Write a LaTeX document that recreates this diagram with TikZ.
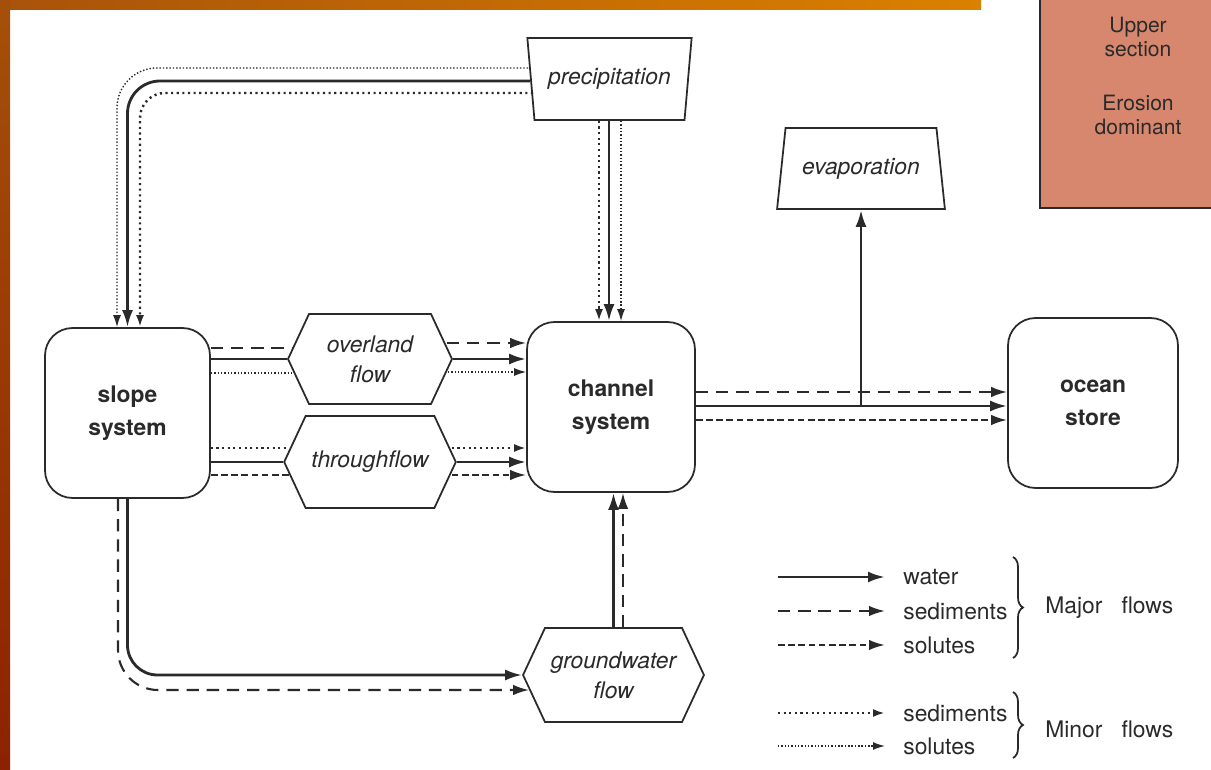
\documentclass[tikz,border=0pt]{standalone}
\usepackage{fontspec}
\setmainfont{TeX Gyre Heros}
\usetikzlibrary{arrows.meta,calc,shapes.geometric,shapes.symbols,decorations.pathreplacing}
\definecolor{BarLeft}{HTML}{A9520A}
\definecolor{BarRight}{HTML}{DB8100}
\definecolor{StripTop}{HTML}{A5500A}
\definecolor{StripBot}{HTML}{8C2200}
\definecolor{SectionRed}{HTML}{D6876E}
\definecolor{InkGray}{HTML}{2A2A2A}
\tikzset{
    store/.style = {draw=InkGray, rectangle, rounded corners=0.55cm, line width=1pt,
        font=\fontsize{13}{19}\selectfont\bfseries, align=center},
    transfer/.style = {draw=InkGray, signal, signal to=east and west,
        signal pointer angle=130, line width=1pt,
        font=\fontsize{13}{17}\selectfont\itshape, align=center},
    inout/.style = {draw=InkGray, trapezium, trapezium stretches=true, line width=1pt,
        font=\fontsize{13}{17}\selectfont\itshape},
    water/.style = {draw=InkGray, line width=1.6pt, -{Latex[length=3.4mm,width=2.2mm]}},
    sedmaj/.style = {draw=InkGray, line width=1.2pt, dash pattern=on 7pt off 4.5pt,
        -{Latex[length=3.2mm,width=2.1mm]}},
    solmaj/.style = {draw=InkGray, line width=1.3pt, dash pattern=on 3.8pt off 2pt,
        -{Latex[length=3.2mm,width=2.1mm]}},
    sedmin/.style = {draw=InkGray, line width=1.4pt, dash pattern=on 1.2pt off 2pt,
        -{Latex[length=2.4mm,width=1.6mm]}},
    solmin/.style = {draw=InkGray, line width=0.8pt, dash pattern=on 0.8pt off 1.1pt,
        -{Latex[length=2.4mm,width=1.6mm]}},
    legtext/.style = {anchor=west, inner sep=0pt, text=InkGray},
    curly/.style = {draw=InkGray, line width=1pt, decorate,
        decoration={brace, amplitude=0.2cm}}
}

\begin{document}
\begin{tikzpicture}[x=0.02cm, y=-0.02cm, font=\fontsize{13}{17}\selectfont, text=InkGray]
        \useasboundingbox (0,0) rectangle (1211,770);
        \fill[white] (0,0) rectangle (1211,770);
        % page decoration
        \shade[left color=BarLeft, right color=BarRight] (0,0) rectangle (981,10);
        \shade[top color=StripTop, bottom color=StripBot] (0,0) rectangle (10,770);
        \fill[SectionRed] (1040,0) rectangle (1211,208);
        \draw[InkGray, line width=1.3pt] (1040,0) -- (1040,208) -- (1211,208);
        \node[align=center, font=\fontsize{12}{14}\selectfont] (upper) at (1138,37) {Upper\\section};
        \node[align=center, font=\fontsize{12}{14}\selectfont] (erosion) at (1138,115) {Erosion\\dominant};

        % stores and transfers
        \node[store, minimum width=3.3cm, minimum height=3.4cm] (slope) at (127.5,413) {slope\\system};
        \node[store, minimum width=3.36cm, minimum height=3.4cm] (chan) at (611,407) {channel\\system};
        \node[store, minimum width=3.4cm, minimum height=3.4cm] (ocean) at (1093,403) {ocean\\store};
        \node[transfer, minimum width=3.28cm, minimum height=1.8cm] (ovl) at (370,359) {overland\\flow};
        \node[transfer, minimum width=3.28cm, minimum height=1.84cm] (thru) at (370,462) {throughflow};
        \node[transfer, minimum width=3.34cm, minimum height=1.88cm] (gw) at (613.5,675) {groundwater\\flow};
        \node[inout, trapezium left angle=101, trapezium right angle=101,
              minimum width=3.3cm, minimum height=1.64cm] (prec) at (609.5,79) {precipitation};
        \node[inout, trapezium left angle=77.5, trapezium right angle=77.5,
              minimum width=3.36cm, minimum height=1.62cm] (evap) at (861,168.5) {evaporation};

        % precipitation
        \draw[solmin, rounded corners=0.8cm] ($(prec.west)+(-2,-11)$) -| (slope.north -| 117,0);
        \draw[water, rounded corners=0.65cm] ($(prec.west)+(0,2)$) -| (slope.north);
        \draw[sedmin, rounded corners=0.5cm] ($(prec.west)+(3,14)$) -| (slope.north -| 140,0);
        \draw[sedmin] (prec.south -| 599,0) -- (chan.north -| 599,0);
        \draw[water] (prec.south -| 609,0) -- (chan.north -| 609,0);
        \draw[solmin] (prec.south -| 621,0) -- (chan.north -| 621,0);

        % slope -> overland flow, throughflow
        \draw[sedmaj, -] (slope.east |- 0,348) -- ($(ovl.west |- 0,348)+(5,0)$);
        \draw[water, -] (slope.east |- ovl.west) -- (ovl.west);
        \draw[solmin, -] (slope.east |- 0,373) -- ($(ovl.west |- 0,373)+(6,0)$);
        \draw[sedmin, -] (slope.east |- 0,448) -- ($(thru.west |- 0,448)+(6,0)$);
        \draw[water, -] (slope.east |- thru.west) -- (thru.west);
        \draw[solmaj, -] (slope.east |- 0,475) -- ($(thru.west |- 0,475)+(6,0)$);

        % overland flow, throughflow -> channel
        \draw[sedmaj] ($(ovl.east |- 0,343)+(-6,0)$) -- (chan.west |- 0,343);
        \draw[water] (ovl.east) -- (chan.west |- ovl.east);
        \draw[solmin] ($(ovl.east |- 0,372)+(-5,0)$) -- (chan.west |- 0,372);
        \draw[sedmin] ($(thru.east |- 0,448)+(-5,0)$) -- (chan.west |- 0,448);
        \draw[water] (thru.east) -- (chan.west |- thru.east);
        \draw[solmaj] ($(thru.east |- 0,475)+(-5,0)$) -- (chan.west |- 0,475);

        % slope -> groundwater -> channel
        \draw[water, rounded corners=0.6cm] (slope.south) |- (gw.west);
        \draw[sedmaj, rounded corners=0.8cm] (slope.south -| 118,0) |- ($(gw.west |- 0,690)+(7,0)$);
        \draw[water] (gw.north) -- (gw.north |- chan.south);
        \draw[sedmaj] (gw.north -| 623,0) -- (chan.south -| 623,0);

        % channel -> ocean, evaporation
        \draw[sedmaj] (chan.east |- 0,392) -- (ocean.west |- 0,392);
        \draw[water] (chan.east |- 0,406) -- (ocean.west |- 0,406);
        \draw[solmaj] (chan.east |- 0,420) -- (ocean.west |- 0,420);
        \draw[water] (evap.south |- 0,406) -- (evap.south);

        % key
        \foreach \sty/\yy/\txt in {water/577/water, sedmaj/611/sediments, solmaj/645/solutes,
                                   sedmin/713/sediments, solmin/746/solutes} {
            \coordinate (legs\yy) at (778,\yy);
            \node[legtext] (leg\yy) at (903,\yy) {\txt};
            \draw[\sty] (legs\yy) -- ($(leg\yy.west)+(-18,0)$);
        }
        \draw[curly] (1013,557) -- (1013,658);
        \draw[curly] (1013,692) -- (1013,758);
        \node[legtext] (major) at (1045,608) {Major\ \ \ flows};
        \node[legtext] (minor) at (1045,729) {Minor\ \ \ flows};
\end{tikzpicture}
\end{document}
